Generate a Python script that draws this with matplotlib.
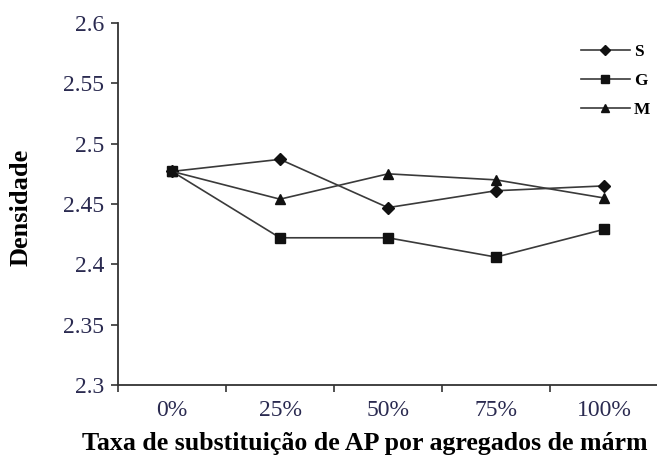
import matplotlib
matplotlib.use("Agg")
import matplotlib.pyplot as plt

categories = ["0%", "25%", "50%", "75%", "100%"]
S = [2.477, 2.487, 2.447, 2.461, 2.465]
G = [2.477, 2.422, 2.422, 2.406, 2.429]
M = [2.477, 2.454, 2.475, 2.470, 2.455]
yticks = [2.3, 2.35, 2.4, 2.45, 2.5, 2.55, 2.6]
ytick_labels = ["2.3", "2.35", "2.4", "2.45", "2.5", "2.55", "2.6"]
xlabel_text = "Taxa de substituição de AP por agregados de márm"
ylabel_text = "Densidade"

plt.rcParams['font.family'] = ['Liberation Serif', 'DejaVu Serif']

fig = plt.figure(figsize=(6.57, 4.61), dpi=100)
ax = fig.add_axes([118/657, 1-385/461, 540/657, 362/461])

x = list(range(len(categories)))
lc = '#3a3a3a'
ax.plot(x, S, color=lc, lw=1.2, marker='D', ms=6, mfc='#111111', mec='#111111', label='S', zorder=3)
ax.plot(x, G, color=lc, lw=1.2, marker='s', ms=6.5, mfc='#111111', mec='#111111', label='G', zorder=3)
ax.plot(x, M, color=lc, lw=1.2, marker='^', ms=7, mfc='#111111', mec='#111111', label='M', zorder=3)

ax.set_xlim(-0.5, len(categories) - 0.5)
ax.set_ylim(2.3, 2.6)
ax.set_yticks(yticks)
ax.set_yticklabels(ytick_labels)
ax.set_xticks(x)
ax.set_xticklabels(categories)
ax.set_xticks([i - 0.5 for i in range(len(categories) + 1)], minor=True)
ax.tick_params(axis='x', which='major', length=0, pad=11, labelsize=17, labelcolor='#2a2a50')
ax.tick_params(axis='x', which='minor', length=5, width=1.2, color='#333333')
ax.tick_params(axis='y', which='major', length=5, width=1.2, color='#333333', labelsize=17, labelcolor='#2a2a50', pad=5)

for s in ['top', 'right']:
    ax.spines[s].set_visible(False)
for s in ['left', 'bottom']:
    ax.spines[s].set_linewidth(1.3)
    ax.spines[s].set_color('#333333')

fig.text(82/657, 1-443/461, xlabel_text,
         fontsize=18.6, fontweight='bold', ha='left', va='center')
fig.text(21/657, 1-207/461, ylabel_text, fontsize=19, fontweight='bold',
         rotation=90, ha='center', va='center')

leg = ax.legend(loc='upper right', bbox_to_anchor=(1.005, 0.972), frameon=False,
                handlelength=2.8, handletextpad=0.25, labelspacing=0.75,
                markerscale=0.85,
                prop={'weight': 'bold', 'size': 12.5}, borderaxespad=0.2)

fig.savefig("out.png", dpi=100)
